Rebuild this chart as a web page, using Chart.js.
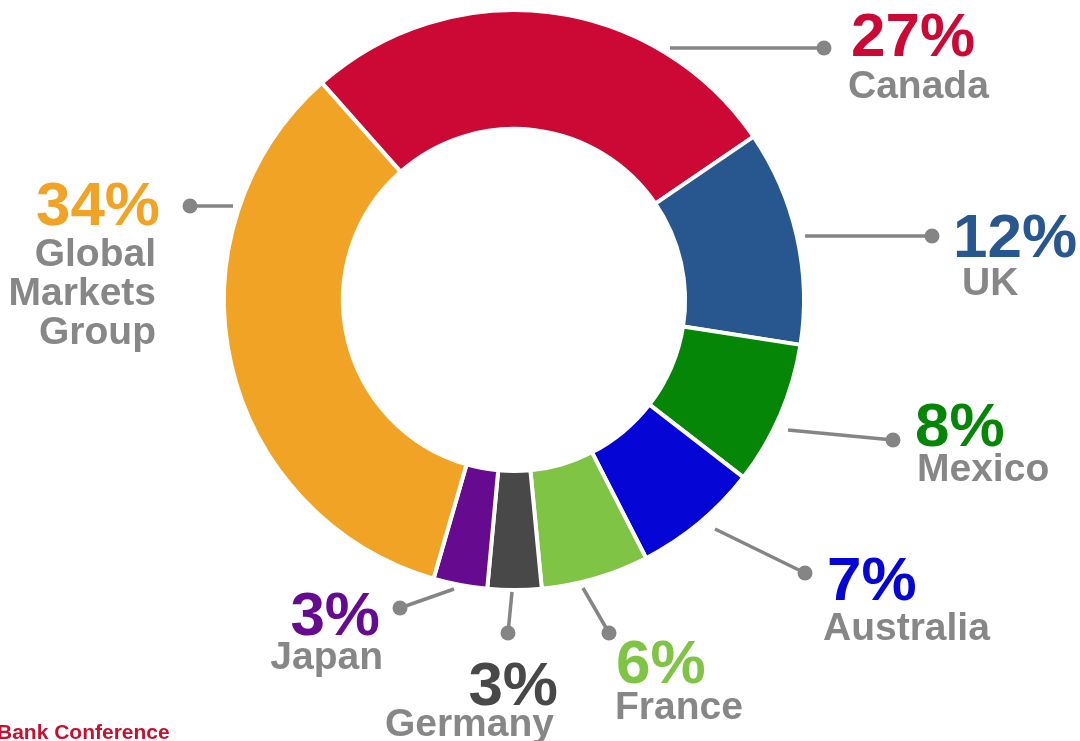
<!DOCTYPE html>
<html>
<head>
<meta charset="utf-8">
<script src="https://cdn.jsdelivr.net/npm/chart.js@4/dist/chart.umd.min.js"></script>
<style>
  html, body { margin: 0; padding: 0; background: #ffffff; }
  #wrap { position: relative; width: 1080px; height: 741px; overflow: hidden; }
  canvas { display: block; }
  #footer {
    position: absolute; left: -3px; top: 720px; line-height: 21px;
    font: bold 21px "Liberation Sans", Arial, sans-serif; color: #C8102E;
    white-space: nowrap;
  }
</style>
</head>
<body>
<div id="wrap">
  <canvas id="c" width="1080" height="741"></canvas>
  <div id="footer">Bank Conference</div>
</div>
<script>
// ---- data ----
const categories = ["Canada", "UK", "Mexico", "Australia", "France", "Germany", "Japan", "Global Markets Group"];
const shares = [27, 12, 8, 7, 6, 3, 3, 34];
const nameLines = [["Canada"], ["UK"], ["Mexico"], ["Australia"], ["France"], ["Germany"], ["Japan"], ["Global", "Markets", "Group"]];

// ---- styles ----
const sliceColors = ["#CC0835", "#28578F", "#068607", "#0505D5", "#80C446", "#484848", "#660A90", "#F0A324"];
const greyText = "#878787";
const leaderColor = "#858585";

// label layout: offsets (px) relative to the doughnut centre
const labelLayout = [
  { from: [156, -252], dot: [310, -252], pct: [337, -244], name: [334, -202], align: "left" },
  { from: [291, -64],  dot: [418, -64],  pct: [439, -43],  name: [448, -5],   align: "left" },
  { from: [274, 130],  dot: [379, 140],  pct: [401, 146],  name: [403, 181],  align: "left" },
  { from: [201, 229],  dot: [291, 273],  pct: [313, 300],  name: [309, 340],  align: "left" },
  { from: [69, 288],   dot: [95, 333],   pct: [102, 383],  name: [101, 419],  align: "left" },
  { from: [-2, 292],   dot: [-6, 333],   pct: [44, 405],   name: [40, 436],   align: "right" },
  { from: [-60, 289],  dot: [-114, 308], pct: [-134, 335], name: [-131, 369], align: "right" },
  { from: [-281, -94], dot: [-324, -94], pct: [-354, -75], name: [-358, -34], align: "right" }
];

const calloutPlugin = {
  id: "callouts",
  afterDatasetsDraw(chart) {
    const ctx = chart.ctx;
    const meta = chart.getDatasetMeta(0);
    meta.data.forEach((arc, i) => {
      const cx = arc.x, cy = arc.y;
      const L = labelLayout[i];
      ctx.save();
      ctx.strokeStyle = leaderColor;
      ctx.lineWidth = 3.5;
      ctx.beginPath();
      ctx.moveTo(cx + L.from[0], cy + L.from[1]);
      ctx.lineTo(cx + L.dot[0], cy + L.dot[1]);
      ctx.stroke();
      ctx.fillStyle = leaderColor;
      ctx.beginPath();
      ctx.arc(cx + L.dot[0], cy + L.dot[1], 7.5, 0, Math.PI * 2);
      ctx.fill();
      ctx.textAlign = L.align;
      ctx.textBaseline = "alphabetic";
      ctx.fillStyle = sliceColors[i];
      ctx.font = 'bold 62px "Liberation Sans", Arial, sans-serif';
      ctx.fillText(shares[i] + "%", cx + L.pct[0], cy + L.pct[1]);
      ctx.fillStyle = greyText;
      ctx.font = 'bold 39px "Liberation Sans", Arial, sans-serif';
      nameLines[i].forEach((t, k) => {
        ctx.fillText(t, cx + L.name[0], cy + L.name[1] + k * 39);
      });
      ctx.restore();
    });
  }
};

new Chart(document.getElementById("c"), {
  type: "doughnut",
  data: {
    labels: categories,
    datasets: [{
      data: shares,
      backgroundColor: sliceColors,
      borderColor: "#ffffff",
      borderWidth: 4,
      hoverOffset: 0,
      offset: 0
    }]
  },
  options: {
    responsive: false,
    animation: false,
    rotation: -41.5,
    cutout: "59%",
    layout: { padding: { left: 222, right: 274, top: 8, bottom: 149 } },
    plugins: {
      legend: { display: false },
      tooltip: { enabled: false }
    },
    events: []
  },
  plugins: [calloutPlugin]
});
</script>
</body>
</html>
